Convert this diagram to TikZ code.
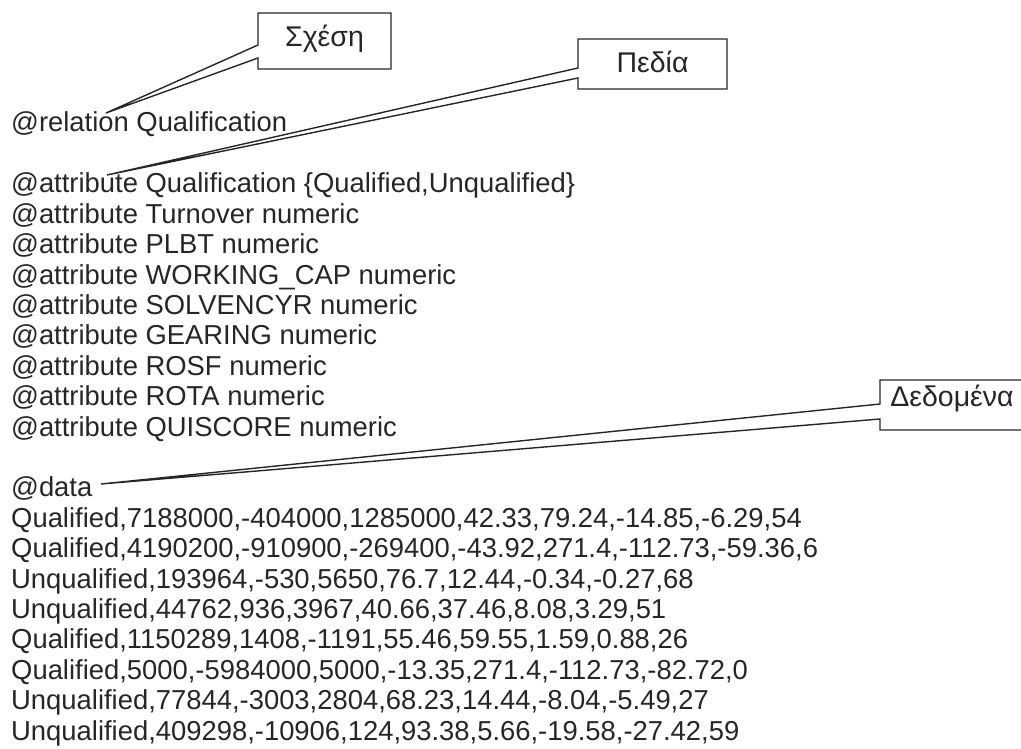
\documentclass[tikz,border=0pt]{standalone}
\usepackage{fontspec}
\setmainfont{Liberation Sans}
\begin{document}
\begin{tikzpicture}[x=1pt,y=-1pt,
  txt/.style={anchor=base west,inner sep=0pt,text=black!85,font=\fontsize{27.4}{30.4}\selectfont},
  lbl/.style={inner sep=0pt,text=black!85,font=\fontsize{28.5}{32}\selectfont},
  callout/.style={draw=black!85,line width=1.4pt,line join=miter}]
\useasboundingbox (0,0) rectangle (1021,749);
% text lines
\foreach \i/\t in {0/{@relation Qualification},
  2/{@attribute Qualification \{Qualified,Unqualified\}},
  3/{@attribute Turnover numeric},
  4/{@attribute PLBT numeric},
  5/{@attribute WORKING\_CAP numeric},
  6/{@attribute SOLVENCYR numeric},
  7/{@attribute GEARING numeric},
  8/{@attribute ROSF numeric},
  9/{@attribute ROTA numeric},
  10/{@attribute QUISCORE numeric},
  12/{@data},
  13/{Qualified,7188000,-404000,1285000,42.33,79.24,-14.85,-6.29,54},
  14/{Qualified,4190200,-910900,-269400,-43.92,271.4,-112.73,-59.36,6},
  15/{Unqualified,193964,-530,5650,76.7,12.44,-0.34,-0.27,68},
  16/{Unqualified,44762,936,3967,40.66,37.46,8.08,3.29,51},
  17/{Qualified,1150289,1408,-1191,55.46,59.55,1.59,0.88,26},
  18/{Qualified,5000,-5984000,5000,-13.35,271.4,-112.73,-82.72,0},
  19/{Unqualified,77844,-3003,2804,68.23,14.44,-8.04,-5.49,27},
  20/{Unqualified,409298,-10906,124,93.38,5.66,-19.58,-27.42,59}}
  \node[txt] (line\i) at (11,{132+30.4*\i}) {\t};

% callout: Σχέση
\node[lbl] (rel) at (324.5,39) {Σχέση};
\coordinate (relTip) at (106,113);
\draw[callout] (258,45) -- (258,13) -- (391,13) -- (391,69) -- (258,69) -- (258,58) -- (relTip) -- cycle;

% callout: Πεδία
\node[lbl] (att) at (652.5,62) {Πεδία};
\coordinate (attTip) at (107,175);
\draw[callout] (578,68) -- (578,39) -- (727,39) -- (727,89) -- (578,89) -- (578,78) -- (attTip) -- cycle;

% callout: Δεδομένα
\node[lbl] (dat) at (952,398) {Δεδομένα};
\coordinate (datTip) at (101,484);
\draw[callout] (880,404) -- (880,380) -- (1030,380) -- (1030,430) -- (880,430) -- (880,419) -- (datTip) -- cycle;
\end{tikzpicture}
\end{document}
